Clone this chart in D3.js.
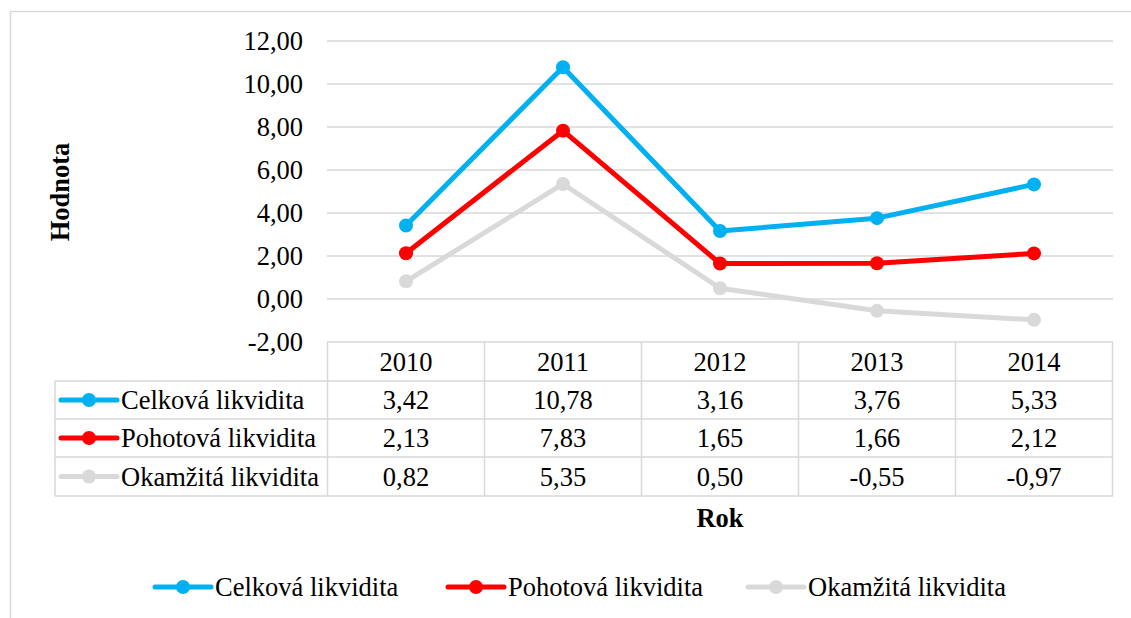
<!DOCTYPE html>
<html>
<head>
<meta charset="utf-8">
<script src="https://cdn.jsdelivr.net/npm/d3@7/dist/d3.min.js"></script>
<style>
html,body{margin:0;padding:0;background:#fff;}
svg{display:block;}
svg text{font-family:'Liberation Serif','Times New Roman',Tinos,'DejaVu Serif',serif;}
</style>
</head>
<body>
<svg id="chart" width="1131" height="618"></svg>
<script>
const years = ["2010","2011","2012","2013","2014"];
const seriesNames = ["Celková likvidita","Pohotová likvidita","Okamžitá likvidita"];
const celkova = [3.42, 10.78, 3.16, 3.76, 5.33];
const pohotova = [2.13, 7.83, 1.65, 1.66, 2.12];
const okamzita = [0.82, 5.35, 0.50, -0.55, -0.97];
const colors = ["#00B0F0","#FF0000","#D9D9D9"];
const yTicks = [-2,0,2,4,6,8,10,12];

const series = seriesNames.map((n,i)=>({name:n, values:[celkova,pohotova,okamzita][i], color:colors[i]}));

const svg = d3.select("#chart");
const fs = 26.5;
const grid = "#d9d9d9";
const FF = "'Liberation Serif','Times New Roman',Tinos,'DejaVu Serif',serif";

svg.append("rect").attr("x",10.5).attr("y",11.5).attr("width",1140).attr("height",640)
  .attr("fill","none").attr("stroke",grid).attr("stroke-width",1.5);

const x = d3.scaleBand().domain(years).range([327.5,1112.5]);
const y = d3.scaleLinear().domain([-2,12]).range([342,41]);
const fmt = v => d3.format(".2f")(v).replace(".",",").replace("−","-");

svg.append("g").selectAll("line").data(yTicks).join("line")
  .attr("x1",327).attr("x2",1113).attr("y1",d=>y(d)).attr("y2",d=>y(d))
  .attr("stroke",grid).attr("stroke-width",1.5);

svg.append("g").selectAll("text").data(yTicks).join("text")
  .attr("x",303).attr("y",d=>y(d)).attr("dy","0.35em").attr("text-anchor","end")
  .attr("font-size",fs).attr("fill","#000").text(d=>fmt(d));

svg.append("text").attr("transform","translate(60,192) rotate(-90)")
  .attr("text-anchor","middle").attr("dy","0.35em").attr("font-weight","bold")
  .attr("font-size",fs).text("Hodnota");

const line = d3.line().x((d,i)=>x(years[i])+x.bandwidth()/2).y(d=>y(d));
const sg = svg.append("g");
series.slice().reverse().forEach(s=>{
  sg.append("path").attr("d",line(s.values)).attr("fill","none")
    .attr("stroke",s.color).attr("stroke-width",5).attr("stroke-linejoin","round");
  sg.append("g").selectAll("circle").data(s.values).join("circle")
    .attr("cx",(d,i)=>x(years[i])+x.bandwidth()/2).attr("cy",d=>y(d)).attr("r",7)
    .attr("fill",s.color);
});

const rowY = [342,381,419,457,496];
const tableLeft = 55;
const tg = svg.append("g");
rowY.slice(1).forEach(ry=>{
  tg.append("line").attr("x1",tableLeft).attr("x2",1113).attr("y1",ry).attr("y2",ry)
    .attr("stroke",grid).attr("stroke-width",1.5);
});
const bounds = years.map(yr=>x(yr)).concat([x(years[years.length-1])+x.bandwidth()]);
bounds.forEach(bx=>{
  tg.append("line").attr("x1",bx).attr("x2",bx).attr("y1",342).attr("y2",496)
    .attr("stroke",grid).attr("stroke-width",1.5);
});
tg.append("line").attr("x1",tableLeft).attr("x2",tableLeft).attr("y1",381).attr("y2",496)
  .attr("stroke",grid).attr("stroke-width",1.5);

tg.selectAll("text.hdr").data(years).join("text").attr("class","hdr")
  .attr("x",d=>x(d)+x.bandwidth()/2).attr("y",(rowY[0]+rowY[1])/2).attr("dy","0.35em")
  .attr("text-anchor","middle").attr("font-size",fs).text(d=>d);

series.forEach((s,si)=>{
  const cy = (rowY[si+1]+rowY[si+2])/2;
  tg.append("line").attr("x1",61).attr("x2",117).attr("y1",cy).attr("y2",cy)
    .attr("stroke",s.color).attr("stroke-width",5).attr("stroke-linecap","round");
  tg.append("circle").attr("cx",89).attr("cy",cy).attr("r",7).attr("fill",s.color);
  tg.append("text").attr("x",121).attr("y",cy).attr("dy","0.35em").attr("font-size",fs).text(s.name);
  tg.append("g").selectAll("text").data(s.values).join("text")
    .attr("x",(d,i)=>x(years[i])+x.bandwidth()/2).attr("y",cy).attr("dy","0.35em")
    .attr("text-anchor","middle").attr("font-size",fs).text(d=>fmt(d));
});

svg.append("text").attr("x",720).attr("y",518).attr("dy","0.35em").attr("text-anchor","middle")
  .attr("font-weight","bold").attr("font-size",fs).text("Rok");

const legX = [155,448,748];
const lg = svg.append("g");
series.forEach((s,i)=>{
  const lx = legX[i], ly = 587;
  lg.append("line").attr("x1",lx).attr("x2",lx+56).attr("y1",ly).attr("y2",ly)
    .attr("stroke",s.color).attr("stroke-width",5).attr("stroke-linecap","round");
  lg.append("circle").attr("cx",lx+28).attr("cy",ly).attr("r",7).attr("fill",s.color);
  lg.append("text").attr("x",lx+60).attr("y",ly).attr("dy","0.35em").attr("font-size",fs).text(s.name);
});
svg.selectAll("text").attr("font-family",FF);
</script>
</body>
</html>
